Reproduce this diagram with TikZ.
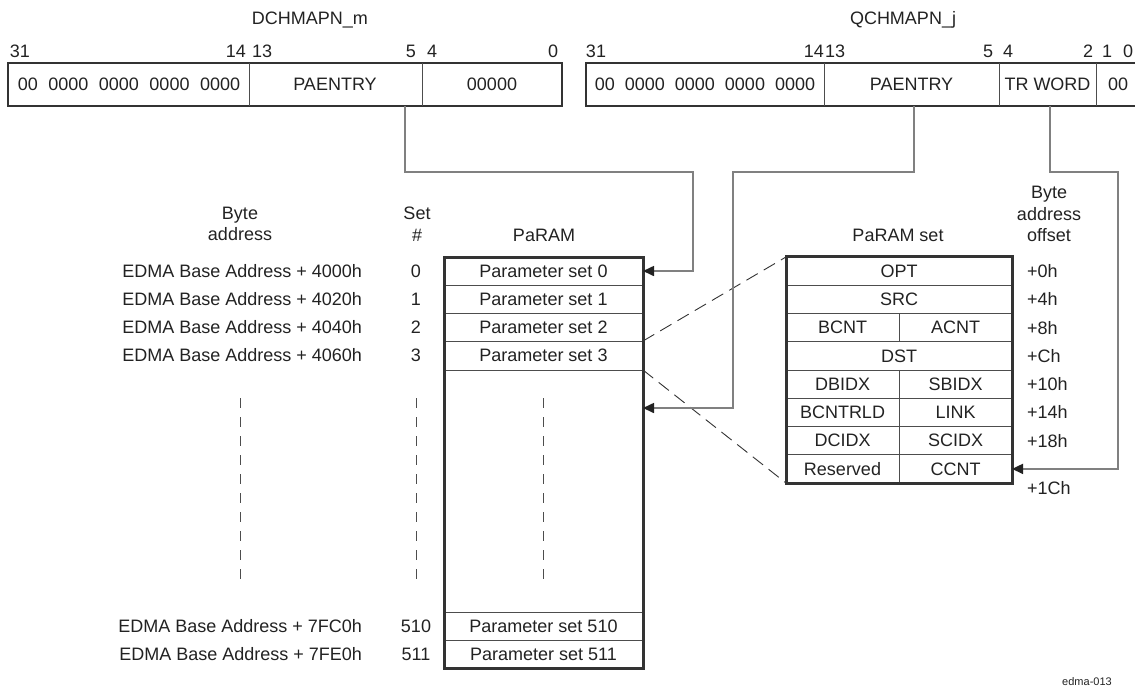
\documentclass[tikz,border=0pt]{standalone}
\usepackage{fontspec}
\setmainfont{Liberation Sans}
\usetikzlibrary{arrows.meta,calc}
\definecolor{ink}{HTML}{222222}
\definecolor{frm}{HTML}{333333}
\definecolor{divc}{HTML}{4D4D4D}
\definecolor{wirec}{HTML}{808080}
\begin{document}
\begin{tikzpicture}[x=1pt,y=-1pt,
  txt/.style={font=\fontsize{18}{21.5}\selectfont, text=ink, inner sep=0pt, outer sep=0pt},
  small/.style={font=\fontsize{11}{13}\selectfont, text=ink, inner sep=0pt, outer sep=0pt},
  fld/.style={txt, minimum height=43pt},
  prow/.style={txt, minimum width=199pt, minimum height=28pt},
  trow/.style={txt, minimum height=28.25pt},
  regframe/.style={draw=frm, line width=2pt},
  heavyframe/.style={draw=frm, line width=3pt},
  divline/.style={draw=divc, line width=1pt},
  wire/.style={draw=wirec, line width=1.6pt},
  arrowend/.style={-{Triangle[length=11pt,width=10pt,color=ink]}},
  zoomdash/.style={draw=frm, line width=0.9pt, dash pattern=on 13pt off 7pt},
  vdash/.style={draw=divc, line width=1pt, dash pattern=on 10pt off 9pt}
]
\useasboundingbox (0,0) rectangle (1135,689);

% titles
\node[txt] (tdch) at (310,20) {DCHMAPN\_m};
\node[txt] (tqch) at (903,20) {QCHMAPN\_j};

% bit labels left register
\node[txt] (b31a) at (20,51) {31};
\node[txt, anchor=east] (b14a) at (246,51) {14};
\node[txt, anchor=west] (b13a) at (252,51) {13};
\node[txt, anchor=east] (b5a) at (416,51) {5};
\node[txt, anchor=west] (b4a) at (427,51) {4};
\node[txt] (b0a) at (553,51) {0};
% bit labels right register
\node[txt] (b31b) at (596,51) {31};
\node[txt, anchor=east] (b14b) at (824,51) {14};
\node[txt, anchor=west] (b13b) at (825,51) {13};
\node[txt, anchor=east] (b5b) at (993,51) {5};
\node[txt, anchor=west] (b4b) at (1003,51) {4};
\node[txt, anchor=east] (b2b) at (1093,51) {2};
\node[txt] (b1b) at (1107,51) {1};
\node[txt] (b0b) at (1128,51) {0};

% left register
\node[fld, minimum width=240pt] (dz) at (129,84.5) {00\hspace{10.5pt}0000\hspace{10.5pt}0000\hspace{10.5pt}0000\hspace{10.5pt}0000};
\node[fld, minimum width=174pt] (dpa) at (335,84.5) {PAENTRY};
\node[fld, minimum width=140pt] (dlo) at (492,84.5) {00000};
\draw[regframe] (8,63) rectangle (dlo.south east);
\draw[divline] (dz.north east) -- (dz.south east);
\draw[divline] (dpa.north east) -- (dpa.south east);

% right register
\node[fld, minimum width=238pt] (qz) at (705,84.5) {00\hspace{10pt}0000\hspace{10pt}0000\hspace{10pt}0000\hspace{10pt}0000};
\node[fld, minimum width=175pt] (qpa) at (911.5,84.5) {PAENTRY};
\node[fld, minimum width=97pt] (qtr) at (1047.5,84.5) {TR WORD};
\node[fld, minimum width=44pt] (qlo) at (1118,84.5) {00};
\draw[regframe] (qz.north west) rectangle (qlo.south east);
\draw[divline] (qz.north east) -- (qz.south east);
\draw[divline] (qpa.north east) -- (qpa.south east);
\draw[divline] (qtr.north east) -- (qtr.south east);

% column headings
\node[txt, align=center] (hbyte) at (240,224) {Byte\\address};
\node[txt, align=center] (hset) at (417,224) {Set\\\#};
\node[txt] (hparam) at (544,235) {PaRAM};
\node[txt] (hpset) at (898,235) {PaRAM set};
\node[txt, align=center] (hoff) at (1049,214) {Byte\\address\\offset};

% PaRAM block
\node[prow] (ps0) at (543.5,271) {Parameter set 0};
\node[prow] (ps1) at (543.5,299) {Parameter set 1};
\node[prow] (ps2) at (543.5,327) {Parameter set 2};
\node[prow, minimum height=29pt] (ps3) at (543.5,355.5) {Parameter set 3};
\node[prow, minimum height=242pt] (pgap) at (543.5,491) {};
\node[prow] (ps510) at (543.5,626) {Parameter set 510};
\node[prow] (ps511) at (543.5,654) {Parameter set 511};
\foreach \r in {ps0,ps1,ps2,ps3,pgap,ps510}
  \draw[divline] (\r.south west) -- (\r.south east);
\draw[heavyframe] (ps0.north west) rectangle (ps511.south east);

% addresses and set numbers
\node[txt, anchor=east] (a0) at (362,271) {EDMA Base Address + 4000h};
\node[txt, anchor=east] (a1) at (362,299) {EDMA Base Address + 4020h};
\node[txt, anchor=east] (a2) at (362,327) {EDMA Base Address + 4040h};
\node[txt, anchor=east] (a3) at (362,355.5) {EDMA Base Address + 4060h};
\node[txt, anchor=east] (a510) at (362,626) {EDMA Base Address + 7FC0h};
\node[txt, anchor=east] (a511) at (362,654) {EDMA Base Address + 7FE0h};
\node[txt] (n0) at (416,271) {0};
\node[txt] (n1) at (416,299) {1};
\node[txt] (n2) at (416,327) {2};
\node[txt] (n3) at (416,355.5) {3};
\node[txt] (n510) at (416,626) {510};
\node[txt] (n511) at (416,654) {511};

% ellipsis dashes
\draw[vdash] (240,398) -- (240,582);
\draw[vdash] (416,398) -- (416,582);
\draw[vdash] (543,398) -- (543,582);

% PaRAM set table
\node[trow, minimum width=226pt] (opt) at (899,271.1) {OPT};
\node[trow, minimum width=226pt] (src) at (899,299.4) {SRC};
\node[trow, minimum width=113pt] (bcnt) at (842.5,327.6) {BCNT};
\node[trow, minimum width=113pt] (acnt) at (955.5,327.6) {ACNT};
\node[trow, minimum width=226pt] (dst) at (899,355.9) {DST};
\node[trow, minimum width=113pt] (dbidx) at (842.5,384.1) {DBIDX};
\node[trow, minimum width=113pt] (sbidx) at (955.5,384.1) {SBIDX};
\node[trow, minimum width=113pt] (bcntrld) at (842.5,412.4) {BCNTRLD};
\node[trow, minimum width=113pt] (lnk) at (955.5,412.4) {LINK};
\node[trow, minimum width=113pt] (dcidx) at (842.5,440.6) {DCIDX};
\node[trow, minimum width=113pt] (scidx) at (955.5,440.6) {SCIDX};
\node[trow, minimum width=113pt] (resv) at (842.5,468.9) {Reserved};
\node[trow, minimum width=113pt] (ccnt) at (955.5,468.9) {CCNT};
\foreach \r in {opt,src,bcnt,dst,dbidx,bcntrld,dcidx}
  \draw[divline] (\r.south west) -- (\r.south west -| opt.east);
\foreach \r in {bcnt,dbidx,bcntrld,dcidx,resv}
  \draw[divline] (\r.north east) -- (\r.south east);
\draw[heavyframe] (opt.north west) rectangle (ccnt.south east);

% offsets
\node[txt, anchor=west] (o0) at (1027,271) {+0h};
\node[txt, anchor=west] (o4) at (1027,299.4) {+4h};
\node[txt, anchor=west] (o8) at (1027,327.6) {+8h};
\node[txt, anchor=west] (oc) at (1027,355.9) {+Ch};
\node[txt, anchor=west] (o10) at (1027,384.1) {+10h};
\node[txt, anchor=west] (o14) at (1027,412.4) {+14h};
\node[txt, anchor=west] (o18) at (1027,440.6) {+18h};
\node[txt, anchor=west] (o1c) at (1027,488) {+1Ch};

% zoom lines
\draw[zoomdash] (ps3.north east) -- (opt.north west);
\draw[zoomdash] (ps3.south east) -- (resv.south west);

% connectors
\coordinate (pin) at (643,408);
\draw[wire, arrowend] ($(dpa.south east)+(-17,0)$) -- (405,172) -- (693,172) |- (ps0.east);
\draw[wire, arrowend] ($(qpa.south west)+(90,0)$) -- (914,172) -- (733,172) |- (pin);
\draw[wire, arrowend] ($(qtr.south west)+(51,0)$) -- (1050,172) -- (1118,172) |- (ccnt.east);

\node[small] (fig) at (1087,682) {edma-013};
\end{tikzpicture}
\end{document}
